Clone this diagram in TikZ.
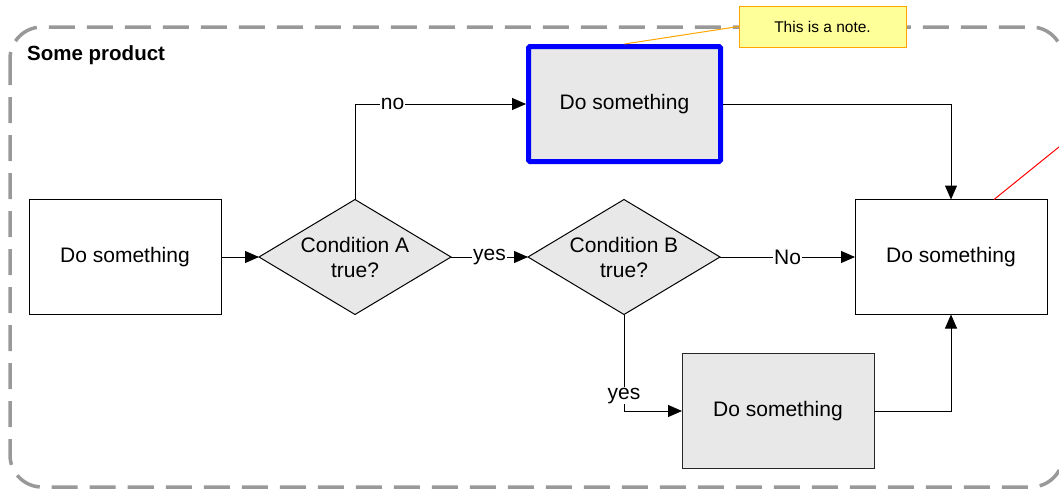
\documentclass[tikz,border=0pt]{standalone}
\usepackage{fontspec}
\setmainfont{Liberation Sans}
\usetikzlibrary{arrows.meta,shapes.geometric}
\definecolor{boxfill}{HTML}{E8E8E8}
\definecolor{framegray}{HTML}{999999}
\definecolor{notefill}{HTML}{FFFF99}
\definecolor{noteborder}{HTML}{FFA500}
\begin{document}
\begin{tikzpicture}[x=1pt,y=-1pt,
  proc/.style={draw=black, line width=1pt, minimum width=192pt, minimum height=115pt,
    inner sep=0pt, outer sep=0pt, font=\fontsize{21}{25}\selectfont, align=center},
  decision/.style={diamond, draw=black, line width=1pt, fill=boxfill, aspect=1.67,
    minimum width=192pt, minimum height=115pt, inner sep=0pt, outer sep=0pt,
    font=\fontsize{21}{25}\selectfont, align=center},
  conn/.style={draw=black, line width=1pt, -{Triangle[length=14pt,width=12pt]}},
  lbl/.style={fill=white, inner sep=1pt, font=\fontsize{21}{25}\selectfont}
]
\useasboundingbox (0,0) rectangle (1059,490);
\clip (0,0) rectangle (1059,490);
% container
\draw[framegray, line width=3.5pt, dash pattern=on 26pt off 12pt, rounded corners=32pt]
  (10,27) rectangle (1063,487);
\node[font=\fontsize{20.5}{24}\selectfont\bfseries, anchor=west, inner sep=0pt] (title) at (27,55) {Some product};
% nodes
\node[proc] (start) at (125,257) {Do something};
\node[decision] (dA) at (355,257) {Condition A\\true?};
\node[decision] (dB) at (624,257) {Condition B\\true?};
\node[proc, fill=boxfill, draw=blue, line width=5pt, rounded corners=1.5pt,
  minimum width=192pt, minimum height=115pt, outer sep=2.5pt] (top) at (624.5,104) {Do something};
\node[proc] (rbox) at (951,257) {Do something};
\node[proc, fill=boxfill, draw=black!85] (bot) at (778,411) {Do something};
\node[draw=noteborder, line width=1pt, fill=notefill, minimum width=167pt, minimum height=41pt,
  inner sep=0pt, font=\fontsize{15.5}{18}\selectfont] (note) at (822.5,26.5) {This is a note.};
% note links
\draw[noteborder, line width=1pt] (note.west) -- (top.north);
\coordinate (redend) at (1075,134);
\draw[red, line width=1pt] ([xshift=43pt]rbox.north) -- (redend);
% connectors
\draw[conn] (start.east) -- (dA.west);
\draw[conn] (dA.north) |- node[lbl, pos=0.61] {no} (top.west);
\draw[conn] (dA.east) -- node[lbl] {yes} (dB.west);
\draw[conn] (dB.east) -- node[lbl] {No} (rbox.west);
\draw[conn] (dB.south) |- node[lbl, pos=0.42] {yes} (bot.west);
\draw[conn] (top.east) -| (rbox.north);
\draw[conn] (bot.east) -| (rbox.south);
\end{tikzpicture}
\end{document}
